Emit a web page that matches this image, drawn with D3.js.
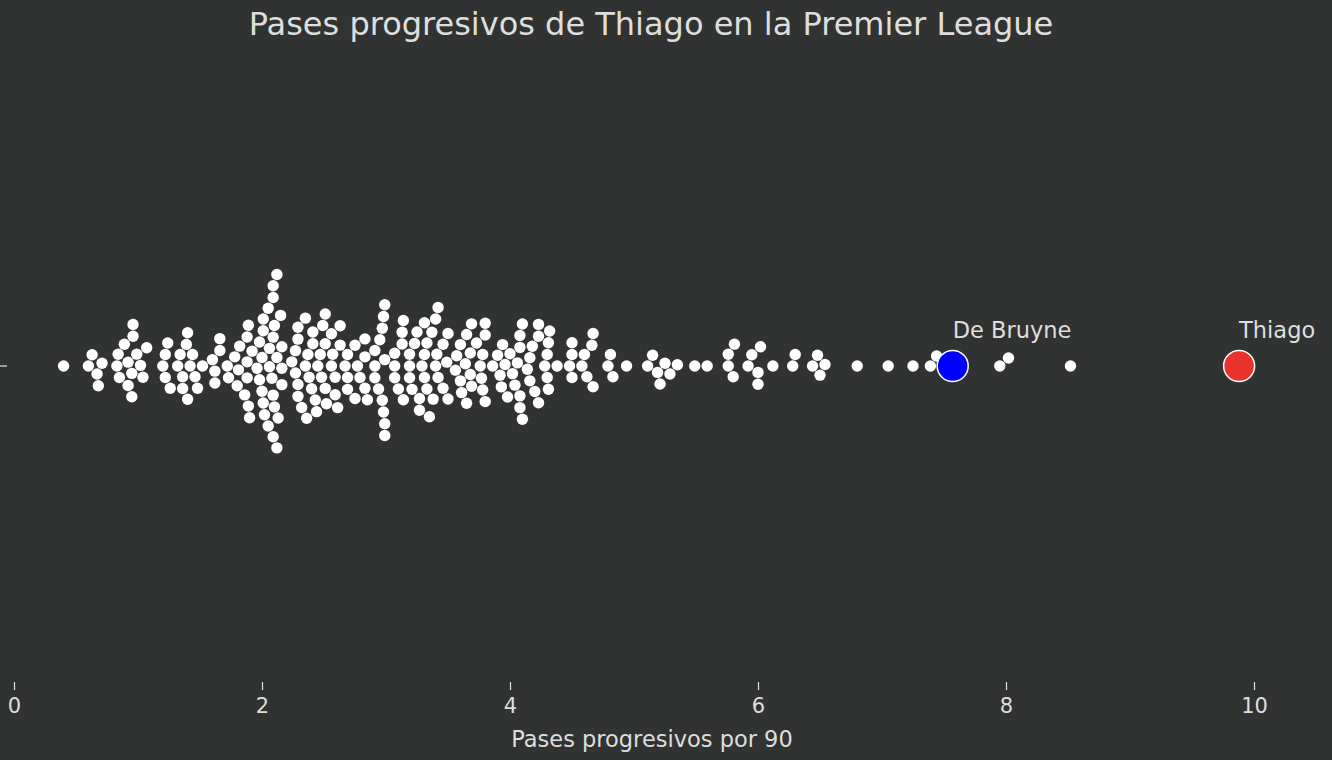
<!DOCTYPE html>
<html>
<head>
<meta charset="utf-8">
<script src="https://cdn.jsdelivr.net/npm/d3@7"></script>
<style>
  html, body { margin: 0; padding: 0; background: #313332; }
  svg { display: block; font-family: "DejaVu Sans", sans-serif; }
</style>
</head>
<body>
<div id="chart"></div>
<script>
// Data
const title = 'Pases progresivos de Thiago en la Premier League';
const xLabel = 'Pases progresivos por 90';
const xTicks = [0, 2, 4, 6, 8, 10];

// progressive passes per 90, one per player
const players = [
  0.40,
  0.60, 0.63, 0.67, 0.68, 0.71,
  0.95, 0.89, 0.84, 0.99, 1.07, 0.83, 0.92, 1.02, 0.85, 0.95, 1.04, 0.92, 0.96, 0.96,
  1.40, 1.24, 1.39, 1.20, 1.34, 1.48, 1.22, 1.32, 1.42, 1.46, 1.22, 1.36, 1.52, 1.26, 1.36, 1.40, 1.44,
  1.66, 1.62, 1.72, 1.60, 1.62, 1.66,
  2.15, 2.12, 2.09, 2.05, 2.12, 2.01, 1.89, 2.09, 2.00, 1.88, 2.09, 2.00, 1.82, 1.92, 2.09, 2.01,
  2.16, 1.78, 1.88, 1.96, 2.05, 1.80, 2.16, 1.73, 1.88, 1.98, 2.06, 2.16, 1.81, 1.98, 2.08, 1.86,
  2.09, 1.90, 2.01, 2.10, 1.89, 2.02, 2.13, 2.06, 2.10, 2.12,
  2.29, 2.41, 2.51, 2.63, 2.29, 2.38, 2.49, 2.59, 2.69, 2.27, 2.36, 2.47, 2.56, 2.67, 2.35, 2.45,
  2.57, 2.24, 2.32, 2.43, 2.52, 2.63, 2.27, 2.37, 2.48, 2.59, 2.69, 2.29, 2.40, 2.51, 2.61, 2.29,
  2.41, 2.56, 2.69, 2.35, 2.44, 2.51,
  2.98, 2.98, 2.95, 2.83, 3.14, 2.75, 2.91, 3.07, 3.19, 2.85, 2.99, 3.13, 2.77, 2.91, 3.07, 3.19,
  2.83, 2.99, 3.14, 2.75, 2.91, 3.07, 3.19, 2.83, 2.99, 3.13, 2.79, 2.94, 3.10, 3.21, 2.97, 2.97, 2.99,
  3.33, 3.31, 3.42, 3.27, 3.40, 3.35, 3.31, 3.42, 3.25, 3.37, 3.29, 3.40, 3.27, 3.38, 3.31, 3.41, 3.33, 3.23,
  3.68, 3.65, 3.80, 3.50, 3.60, 3.78, 3.46, 3.56, 3.65, 3.77, 3.50, 3.61, 3.73, 3.46, 3.57, 3.68,
  3.80, 3.49, 3.60, 3.69, 3.78, 3.64, 3.76, 3.69, 3.80,
  4.08, 3.94, 4.08, 3.90, 4.00, 4.08, 3.86, 3.98, 4.10, 3.93, 4.04, 3.92, 4.02, 4.10, 3.96, 4.06, 4.08,
  4.23, 4.32, 4.18, 4.31, 4.16, 4.30, 4.23, 4.14, 4.28, 4.16, 4.30, 4.20, 4.31, 4.23,
  4.38, 4.50, 4.48, 4.50, 4.50, 4.58, 4.62, 4.67, 4.67, 4.60, 4.66,
  4.81, 4.79, 4.83, 4.94,
  5.15, 5.11, 5.25, 5.35, 5.19, 5.29, 5.21, 5.49, 5.59,
  5.81, 5.76, 5.76, 5.80, 6.02, 5.95, 5.92, 6.00, 6.00, 6.12,
  6.30, 6.28, 6.48, 6.44, 6.54, 6.50,
  6.80, 7.05, 7.25, 7.39, 7.44, 7.49, 7.95, 8.02, 8.52
];

const highlightNames = ['De Bruyne', 'Thiago'];
const highlightValues = [7.57, 9.88];
const highlightColors = ['#0000ff', '#e8322b'];

// Layout
const W = 1332, H = 760;
const bg = '#313332', fg = '#dedede';
const midY = 366;
const dotR = 5.7;

const svg = d3.select('#chart').append('svg').attr('width', W).attr('height', H);
svg.append('rect').attr('width', W).attr('height', H).attr('fill', bg);

const x = d3.scaleLinear().domain([0, 10]).range([14, 1254]);

// Title
svg.append('text')
  .attr('x', 651).attr('y', 26)
  .attr('text-anchor', 'middle').attr('dominant-baseline', 'middle')
  .attr('fill', fg).attr('font-size', 32)
  .text(title);

// X axis
const axis = svg.append('g').attr('transform', 'translate(0,682)')
  .call(d3.axisBottom(x).tickValues(xTicks).tickSize(8).tickPadding(8).tickFormat(d3.format('d')));
axis.select('.domain').remove();
axis.selectAll('line').attr('stroke', fg).attr('stroke-width', 1.2);
axis.selectAll('text').attr('fill', fg).attr('font-size', 21).attr('font-family', '"DejaVu Sans", sans-serif');

svg.append('text')
  .attr('x', 652).attr('y', 740)
  .attr('text-anchor', 'middle').attr('dominant-baseline', 'middle')
  .attr('fill', fg).attr('font-size', 22.5)
  .text(xLabel);

// lone y tick at the swarm centre
svg.append('line').attr('x1', 0).attr('x2', 7).attr('y1', midY).attr('y2', midY)
  .attr('stroke', fg).attr('stroke-width', 1.2);

// Beeswarm placement: each point goes to the free offset closest to the centre line
const sep = dotR * 2 + 0.4;
const placed = [];
players.slice().sort((a, b) => a - b).forEach(v => {
  const px = x(v);
  const near = placed.filter(p => Math.abs(p.x - px) < sep);
  const cands = [0];
  near.forEach(p => {
    const dy = Math.sqrt(sep * sep - (p.x - px) ** 2);
    cands.push(p.y + dy, p.y - dy);
  });
  cands.sort((a, b) => Math.abs(a) - Math.abs(b) || a - b);
  const y = cands.find(c => near.every(p => (p.x - px) ** 2 + (p.y - c) ** 2 >= sep * sep - 0.01));
  placed.push({ v, x: px, y });
});

svg.append('g')
  .selectAll('circle')
  .data(placed)
  .join('circle')
  .attr('cx', d => d.x)
  .attr('cy', d => midY + d.y)
  .attr('r', dotR)
  .attr('fill', '#ffffff');

// Highlighted players
const hl = highlightNames.map((name, i) => ({ name, v: highlightValues[i], c: highlightColors[i] }));
svg.append('g')
  .selectAll('circle')
  .data(hl)
  .join('circle')
  .attr('cx', d => x(d.v))
  .attr('cy', midY)
  .attr('r', 15.5)
  .attr('fill', d => d.c)
  .attr('stroke', '#ffffff').attr('stroke-width', 1.5);

svg.append('g')
  .selectAll('text')
  .data(hl)
  .join('text')
  .attr('x', d => x(d.v))
  .attr('y', 331)
  .attr('dominant-baseline', 'middle')
  .attr('fill', fg).attr('font-size', 22.5)
  .text(d => d.name);
</script>
</body>
</html>
